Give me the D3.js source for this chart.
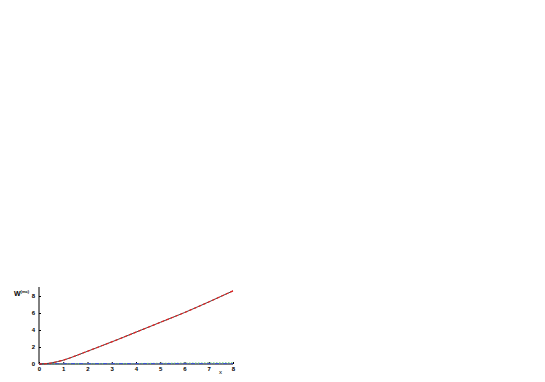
<!DOCTYPE html>
<html><head><meta charset="utf-8">
<script src="https://cdn.jsdelivr.net/npm/d3@7"></script>
<style>body{margin:0;background:#fff}svg{display:block}</style>
</head><body><svg id="c" width="545" height="382"></svg>
<script>
const xs = [0, 0.25, 0.5, 0.75, 1, 1.5, 2, 2.5, 3, 3.5, 4, 4.5, 5, 5.5, 6, 6.5, 7, 7.5, 8];
const wBlack = [0, 0.03, 0.12, 0.27, 0.45, 0.95, 1.5, 2.05, 2.6, 3.17, 3.75, 4.32, 4.9, 5.47, 6.05, 6.67, 7.3, 7.95, 8.6];
const wRed = wBlack.slice();
const wBlue = [0, 0.02, 0.03, 0.04, 0.04, 0.05, 0.05, 0.05, 0.05, 0.05, 0.05, 0.05, 0.05, 0.05, 0.05, 0.05, 0.05, 0.05, 0.05];
const wGreen = [0, 0.01, 0.02, 0.02, 0.03, 0.03, 0.04, 0.04, 0.05, 0.05, 0.06, 0.07, 0.08, 0.09, 0.1, 0.11, 0.12, 0.13, 0.14];
const xTicks = [0,1,2,3,4,5,6,7,8];
const yTicks = [0,2,4,6,8];

const svg = d3.select("#c");
const x = d3.scaleLinear().domain([0,8]).range([39,233]);
const y = d3.scaleLinear().domain([0,8]).range([364,296]);

const font = "Liberation Sans, Arial, sans-serif";
svg.append("g").attr("transform","translate(0,364)")
  .call(d3.axisBottom(x).tickValues(xTicks).tickSize(-2).tickPadding(3).tickFormat(d3.format("d")))
  .call(g=>{g.select(".domain").attr("stroke","#000").attr("d","M39,0H233");
    g.selectAll("text").attr("font-size",6).attr("font-weight","bold").attr("font-family",font);
    g.selectAll("line").attr("stroke","#000");});
svg.append("g").attr("transform","translate(39,0)")
  .call(d3.axisLeft(y).tickValues(yTicks).tickSize(-2).tickPadding(4).tickFormat(d3.format("d")))
  .call(g=>{g.select(".domain").attr("stroke","#000").attr("d","M0,364V287");
    g.selectAll("text").attr("font-size",6).attr("font-weight","bold").attr("font-family",font);
    g.selectAll("line").attr("stroke","#000");});

const line = vals => d3.line().x((d,i)=>x(xs[i])).y(d=>y(d)).curve(d3.curveMonotoneX)(vals);
svg.append("path").attr("d",line(wGreen)).attr("fill","none").attr("stroke","#5fd35f").attr("stroke-width",1).attr("stroke-dasharray","1.5,1.5");
svg.append("path").attr("d",line(wBlue)).attr("fill","none").attr("stroke","#3b4fd8").attr("stroke-width",1).attr("stroke-dasharray","4,1.5,1,1.5");
svg.append("path").attr("d",line(wBlack)).attr("fill","none").attr("stroke","#444").attr("stroke-width",1);
svg.append("path").attr("d",line(wRed)).attr("fill","none").attr("stroke","#e82020").attr("stroke-width",1.2).attr("stroke-dasharray","3,2");

const t = svg.append("text").attr("x",14).attr("y",296).attr("font-family",font).attr("font-weight","bold").attr("font-size",7);
t.append("tspan").text("W");
t.append("tspan").attr("dy",-3).attr("font-size",4).text("(mc)");
svg.append("text").attr("x",219).attr("y",374).attr("font-family",font).attr("font-size",6).text("x");
</script></body></html>
